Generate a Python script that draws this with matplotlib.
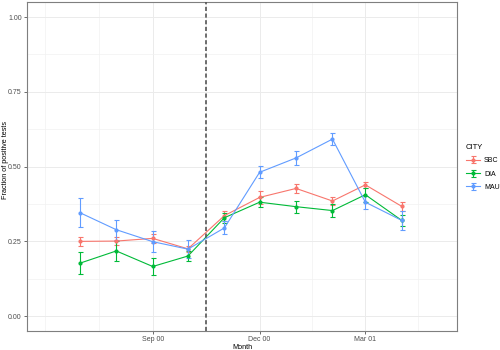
import numpy as np
import pandas as pd
import matplotlib
matplotlib.use("Agg")
import matplotlib.pyplot as plt
import matplotlib.dates as mdates

plt.rcParams["font.family"] = ["Liberation Sans", "DejaVu Sans"]

# Monthly fraction of positive tests per city, with error half-widths
months = pd.date_range("2000-07-01", "2001-04-01", freq="MS")
sbc = [0.250, 0.251, 0.260, 0.225, 0.336, 0.397, 0.427, 0.385, 0.439, 0.367]
sbc_err = [0.016, 0.012, 0.016, 0.010, 0.017, 0.021, 0.015, 0.012, 0.011, 0.014]
dia = [0.177, 0.218, 0.166, 0.201, 0.329, 0.381, 0.366, 0.353, 0.406, 0.320]
dia_err = [0.036, 0.032, 0.029, 0.016, 0.016, 0.017, 0.020, 0.022, 0.024, 0.017]
mau = [0.346, 0.289, 0.249, 0.224, 0.295, 0.481, 0.529, 0.592, 0.381, 0.320]
mau_err = [0.048, 0.034, 0.036, 0.030, 0.022, 0.020, 0.023, 0.021, 0.022, 0.032]

cities = ["SBC", "DIA", "MAU"]
colors = ["#F8766D", "#00BA38", "#619CFF"]
values = [sbc, dia, mau]
errors = [sbc_err, dia_err, mau_err]

cutoff = pd.Timestamp("2000-10-16")
major_ticks = pd.to_datetime(["2000-09-01", "2000-12-01", "2001-03-01"])
minor_ticks = pd.to_datetime(["2000-06-01", "2000-07-17", "2000-10-16",
                              "2001-01-15", "2001-04-15"])

fig = plt.figure(figsize=(5, 3.5), dpi=100)
ax = fig.add_axes([0.054, 0.054, 0.86, 0.94])

for city, col, v, e in zip(cities, colors, values, errors):
    ax.errorbar(months, v, yerr=e, color=col, lw=0.8, marker="o", ms=2.0,
                elinewidth=0.8, capsize=1.8, capthick=0.8, label=city, zorder=3)

ax.axvline(cutoff, color="#555555", ls=(0, (2.5, 1.5)), lw=1.2, zorder=4)

ax.set_xlim(pd.Timestamp("2000-05-17"), pd.Timestamp("2001-05-18"))
ax.set_ylim(-0.05, 1.05)
ax.set_xticks(major_ticks)
ax.xaxis.set_major_formatter(mdates.DateFormatter("%b %y"))
ax.set_xticks(minor_ticks, minor=True)
ax.set_yticks([0, 0.25, 0.5, 0.75, 1.0])
ax.set_yticks([0.125, 0.375, 0.625, 0.875], minor=True)
ax.set_yticklabels(["0.00", "0.25", "0.50", "0.75", "1.00"])

ax.grid(True, which="major", color="#EBEBEB", lw=0.7, zorder=0)
ax.grid(True, which="minor", color="#F2F2F2", lw=0.5, zorder=0)
ax.tick_params(which="major", length=2.2, width=0.5, color="#333333",
               labelsize=5, labelcolor="#4D4D4D", pad=1.5)
ax.tick_params(which="minor", length=0)
for s in ax.spines.values():
    s.set_color("#7F7F7F")
    s.set_linewidth(0.8)

ax.set_xlabel("Month", fontsize=5.2, labelpad=0.5)
ax.set_ylabel("Fraction of positive tests", fontsize=5.2, labelpad=2)
ax.yaxis.set_label_coords(-0.043, 0.52)

leg = fig.legend(*ax.get_legend_handles_labels(), title="CITY",
                 loc="upper left", bbox_to_anchor=(0.932, 1 - 144 / 350),
                 frameon=False, fontsize=5, title_fontsize=5.5,
                 handlelength=2.0, handletextpad=0.6, labelspacing=0.9,
                 borderpad=0, borderaxespad=0)
leg._legend_box.align = "left"

fig.savefig("out.png", dpi=100)
